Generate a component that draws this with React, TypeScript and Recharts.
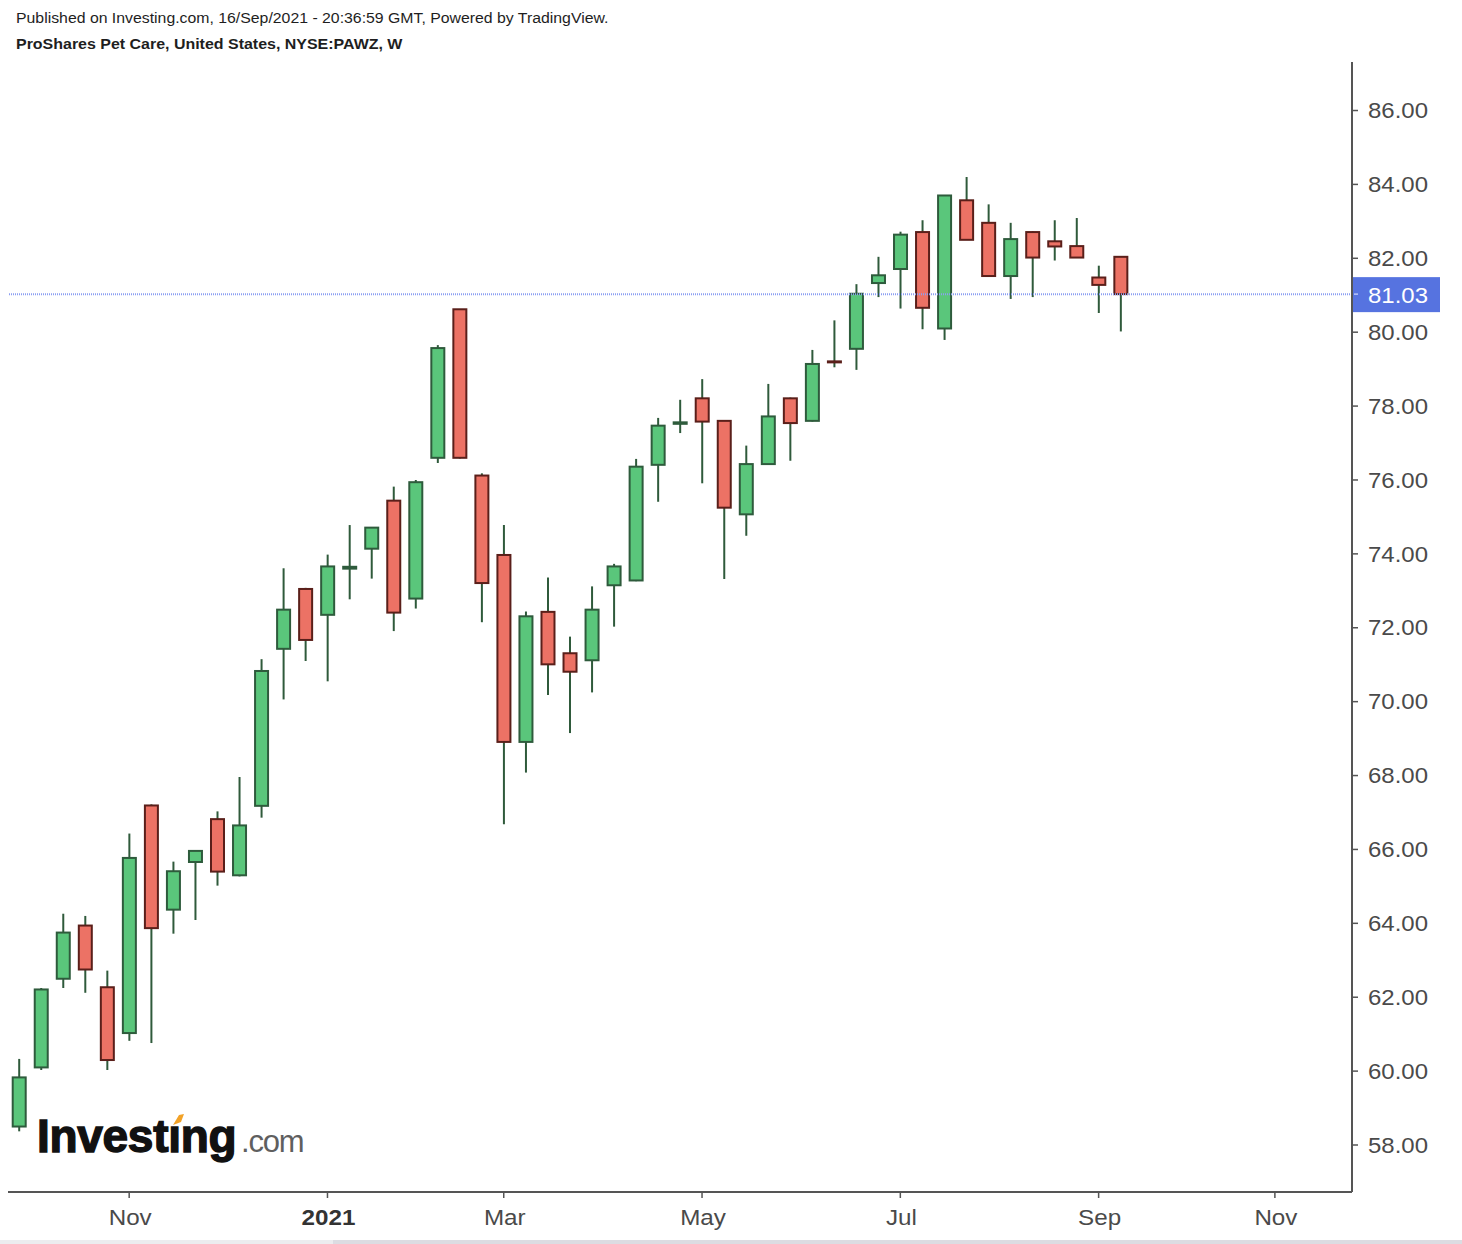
import React from 'react';
import { ComposedChart, Bar, XAxis, YAxis, ReferenceLine } from 'recharts';

// week start dates (the last 10 are empty room to the right of the last bar)
const weeks = [
  '2020-09-28', '2020-10-05', '2020-10-12', '2020-10-19', '2020-10-26',
  '2020-11-02', '2020-11-09', '2020-11-16', '2020-11-23', '2020-11-30',
  '2020-12-07', '2020-12-14', '2020-12-21', '2020-12-28', '2021-01-04',
  '2021-01-11', '2021-01-18', '2021-01-25', '2021-02-01', '2021-02-08',
  '2021-02-15', '2021-02-22', '2021-03-01', '2021-03-08', '2021-03-15',
  '2021-03-22', '2021-03-29', '2021-04-05', '2021-04-12', '2021-04-19',
  '2021-04-26', '2021-05-03', '2021-05-10', '2021-05-17', '2021-05-24',
  '2021-05-31', '2021-06-07', '2021-06-14', '2021-06-21', '2021-06-28',
  '2021-07-05', '2021-07-12', '2021-07-19', '2021-07-26', '2021-08-02',
  '2021-08-09', '2021-08-16', '2021-08-23', '2021-08-30', '2021-09-06',
  '2021-09-13', '2021-09-20', '2021-09-27', '2021-10-04', '2021-10-11',
  '2021-10-18', '2021-10-25', '2021-11-01', '2021-11-08', '2021-11-15',
  '2021-11-22',
];

const opens = [
  58.50, 60.10, 62.50, 63.94, 62.27, 61.03, 67.19, 64.37, 65.66, 66.82,
  65.30, 67.18, 71.43, 73.05, 72.35, 73.60, 74.14, 75.44, 72.79, 76.60,
  80.62, 76.12, 73.97, 68.91, 72.43, 71.31, 71.12, 73.15, 73.28, 76.41,
  77.52, 78.21, 77.60, 75.07, 76.43, 78.21, 77.60, 79.21, 79.55, 81.33,
  81.71, 82.71, 80.10, 83.57, 82.96, 81.52, 82.71, 82.46, 82.33, 81.48,
  82.04,
];
const highs = [
  60.33, 62.25, 64.26, 64.20, 62.72, 66.43, 67.22, 65.67, 65.98, 67.03,
  67.96, 71.15, 73.61, 73.08, 73.98, 74.78, 74.71, 75.82, 76.00, 79.65,
  80.62, 76.18, 74.78, 72.44, 73.36, 71.76, 73.12, 73.73, 76.57, 77.68,
  78.17, 78.73, 77.62, 76.93, 78.60, 78.23, 79.52, 80.32, 81.30, 82.04,
  82.72, 83.03, 83.70, 84.20, 83.46, 82.96, 82.73, 83.03, 83.09, 81.80,
  82.04,
];
const lows = [
  58.37, 60.03, 62.25, 62.12, 60.03, 60.82, 60.76, 63.72, 64.09, 65.02,
  65.27, 66.86, 70.06, 71.10, 70.55, 72.77, 73.33, 71.91, 72.52, 76.46,
  76.58, 72.15, 66.68, 68.08, 70.18, 69.15, 70.25, 72.03, 73.26, 75.41,
  77.27, 75.91, 73.32, 74.49, 76.41, 76.52, 77.58, 79.05, 78.98, 80.95,
  80.64, 80.08, 79.79, 82.50, 81.52, 80.90, 80.95, 81.94, 82.02, 80.52,
  80.02,
];
const closes = [
  59.83, 62.21, 63.75, 62.75, 60.30, 65.77, 63.87, 65.41, 65.96, 65.40,
  66.65, 70.83, 72.49, 71.67, 73.66, 73.65, 74.71, 72.41, 75.94, 79.57,
  76.60, 73.21, 68.91, 72.31, 71.01, 70.81, 72.49, 73.66, 76.36, 77.47,
  77.56, 77.58, 75.25, 76.43, 77.72, 77.54, 79.14, 79.19, 81.04, 81.54,
  82.64, 80.66, 83.70, 82.50, 81.52, 82.52, 82.02, 82.32, 82.02, 81.28,
  81.03,
];

const priceTicks = [58, 60, 62, 64, 66, 68, 70, 72, 74, 76, 78, 80, 82, 84, 86];
const monthTicks = ['2020-11-02', '2021-01-04', '2021-03-01', '2021-05-03', '2021-07-05', '2021-09-06', '2021-11-01'];
const monthLabels = ['Nov', '2021', 'Mar', 'May', 'Jul', 'Sep', 'Nov'];
const lastPrice = 81.03;

const data = weeks.map((date, i) => ({
  date,
  open: opens[i],
  high: highs[i],
  low: lows[i],
  close: closes[i],
}));

const FONT = '"Liberation Sans", Arial, sans-serif';
const AXIS = '#555555';
const WICK = '#2f5a3b';
const UP_FILL = '#5ac67b';
const UP_LINE = '#2e5b3c';
const DOWN_FILL = '#ec7265';
const DOWN_LINE = '#5a1f1a';

const Candle = (props: any) => {
  const { x, y, width, height, payload } = props;
  if (!payload || payload.high == null) return <g />;
  const { open, close, high, low } = payload;
  const top = Math.min(y, y + height);
  const h = Math.abs(height);
  const ppu = high === low ? 0 : h / (high - low);
  const py = (v: number) => top + (high - v) * ppu;
  const cx = x + width / 2;
  const up = close >= open;
  const bTop = py(Math.max(open, close));
  const bBot = py(Math.min(open, close));
  const bw = 13;
  return (
    <g>
      <line x1={cx} x2={cx} y1={py(high)} y2={py(low)} stroke={WICK} strokeWidth={2} />
      <rect
        x={cx - bw / 2}
        y={bTop}
        width={bw}
        height={Math.max(bBot - bTop, 1)}
        fill={up ? UP_FILL : DOWN_FILL}
        stroke={up ? UP_LINE : DOWN_LINE}
        strokeWidth={2}
      />
    </g>
  );
};

const PriceTick = ({ x, y, payload }: any) => (
  <text
    transform={`translate(${x},${y}) scale(1.09,1)`}
    dominantBaseline="central"
    textAnchor="start"
    fontSize={22}
    fontFamily={FONT}
    fill="#4a4a4a"
  >
    {Number(payload.value).toFixed(2)}
  </text>
);

const MonthTick = ({ x, y, payload }: any) => {
  const k = monthTicks.indexOf(payload.value);
  if (k < 0) return <g />;
  const label = monthLabels[k];
  return (
    <g>
      <line x1={x} x2={x} y1={y - 8} y2={y - 2} stroke={AXIS} strokeWidth={1.5} />
      <text
        transform={`translate(${x + 1},${y + 17}) scale(1.1,1)`}
        textAnchor="middle"
        dominantBaseline="central"
        fontSize={22}
        fontFamily={FONT}
        fontWeight={label === '2021' ? 'bold' : 'normal'}
        fill={label === '2021' ? '#333333' : '#4a4a4a'}
      >
        {label}
      </text>
    </g>
  );
};

const PriceTag = (props: any) => {
  const vb = props.viewBox || {};
  const left = vb.x + vb.width;
  const cy = vb.y;
  return (
    <g>
      <rect x={left} y={cy - 17} width={88} height={35} fill="#5673e0" />
      <line x1={left + 2} x2={left + 6} y1={cy} y2={cy} stroke="#b9c6f7" strokeWidth={1.5} />
      <text
        transform={`translate(${left + 16},${cy + 1}) scale(1.09,1)`}
        dominantBaseline="central"
        fontSize={22}
        fontFamily={FONT}
        fill="#ffffff"
      >
        {lastPrice.toFixed(2)}
      </text>
    </g>
  );
};

export default function App() {
  return (
    <div style={{ position: 'absolute', left: 0, top: 0, width: 1462, height: 1244, background: '#fff', fontFamily: FONT }}>
      <div style={{ position: 'absolute', left: 16, top: 10, fontSize: 14, lineHeight: '16px', color: '#1e1e1e', whiteSpace: 'nowrap', transform: 'scaleX(1.13)', transformOrigin: 'left' }}>
        Published on Investing.com, 16/Sep/2021 - 20:36:59 GMT, Powered by TradingView.
      </div>
      <div style={{ position: 'absolute', left: 16, top: 36, fontSize: 14, lineHeight: '16px', fontWeight: 'bold', color: '#1e1e1e', whiteSpace: 'nowrap', transform: 'scaleX(1.14)', transformOrigin: 'left' }}>
        ProShares Pet Care, United States, NYSE:PAWZ, W
      </div>

      <div style={{ position: 'absolute', left: 0, top: 0 }}>
        <ComposedChart width={1462} height={1244} data={data} margin={{ top: 62, right: 0, bottom: 0, left: 8 }}>
          <XAxis
            dataKey="date"
            type="category"
            height={52}
            interval={0}
            tickSize={6}
            tickMargin={2}
            tickLine={false}
            axisLine={{ stroke: AXIS, strokeWidth: 2 }}
            tick={<MonthTick />}
          />
          <YAxis
            orientation="right"
            width={110}
            domain={[56.728, 87.313]}
            allowDataOverflow
            ticks={priceTicks}
            tickSize={6}
            tickMargin={10}
            axisLine={{ stroke: AXIS, strokeWidth: 2 }}
            tickLine={{ stroke: AXIS, strokeWidth: 1.5 }}
            tick={<PriceTick />}
          />
          <ReferenceLine
            y={lastPrice}
            stroke="#8c9ff2"
            strokeWidth={2}
            strokeDasharray="1 1"
            label={<PriceTag />}
          />
          <Bar
            dataKey={(d: any) => (d.high == null ? null : [d.low, d.high])}
            shape={<Candle />}
            isAnimationActive={false}
          />
        </ComposedChart>
      </div>

      <svg width={300} height={70} style={{ position: 'absolute', left: 30, top: 1105 }}>
        <text x={7} y={47} fontSize={46} fontWeight="bold" fontFamily={FONT} fill="#111111" stroke="#111111" strokeWidth={1.4} letterSpacing={-0.3}>
          Investıng
        </text>
        <text x={211} y={47} fontSize={31} fontFamily={FONT} fill="#5f5f5f" letterSpacing={-1.2}>
          .com
        </text>
        <polygon points="143,20 149,10 154,9 151,17" fill="#f2a227" />
      </svg>

      <div style={{ position: 'absolute', left: 0, top: 1240, width: 1462, height: 4, background: '#dcdce2' }} />
      <div style={{ position: 'absolute', left: 0, top: 1240, width: 333, height: 4, background: '#ececef' }} />
    </div>
  );
}
